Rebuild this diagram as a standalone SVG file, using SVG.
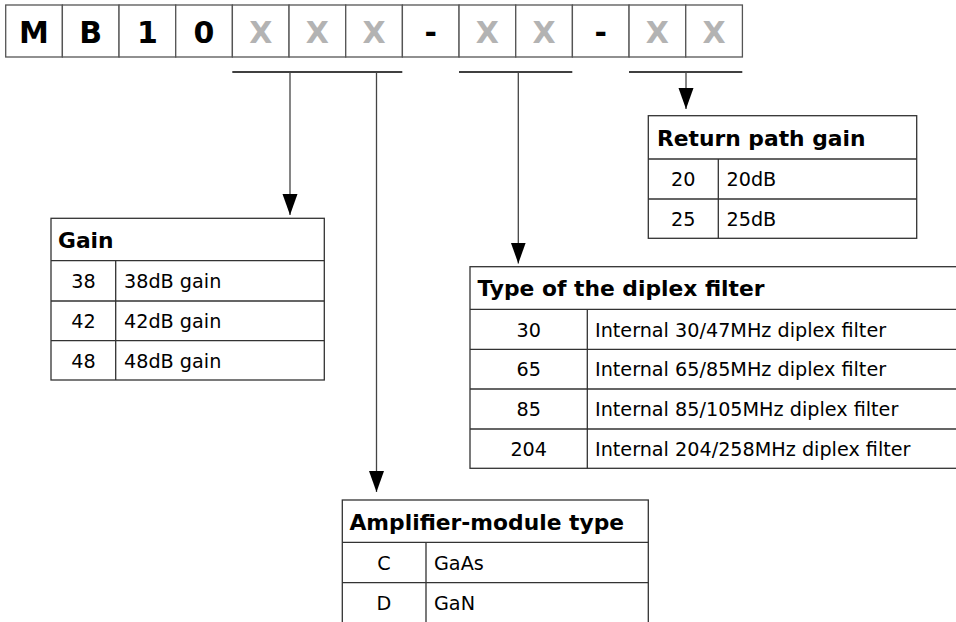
<svg xmlns="http://www.w3.org/2000/svg" width="956" height="622" viewBox="0 0 956 622">
<style>
.box{fill:#fff;stroke:#555;stroke-width:1.3}
.bl{font-family:"DejaVu Sans",sans-serif;font-weight:bold;font-size:30px;text-anchor:middle;fill:#000}
.gx{fill:#b3b3b3}
.tb{fill:#fff;stroke:#333;stroke-width:1.3}
.tl{stroke:#333;stroke-width:1.3;fill:none}
.hd{font-family:"DejaVu Sans",sans-serif;font-weight:bold;font-size:21.8px;fill:#000}
.bd{font-family:"DejaVu Sans",sans-serif;font-size:19.2px;fill:#000}
.c{text-anchor:middle}
.cn{stroke:#000;stroke-width:1.3;fill:none}
.cv{stroke:#444;stroke-width:1.3;fill:none}
</style>
<defs>
<marker id="ah" markerUnits="userSpaceOnUse" markerWidth="22" markerHeight="16" refX="21" refY="7.5" orient="auto">
<path d="M0,0 L21,7.5 L0,15 z" fill="#000"/>
</marker>
</defs>
<g id="code">
<rect class="box" x="5.7" y="5" width="56.67" height="52"/>
<rect class="box" x="62.37" y="5" width="56.67" height="52"/>
<rect class="box" x="119.04" y="5" width="56.67" height="52"/>
<rect class="box" x="175.71" y="5" width="56.67" height="52"/>
<rect class="box" x="232.38" y="5" width="56.67" height="52"/>
<rect class="box" x="289.05" y="5" width="56.67" height="52"/>
<rect class="box" x="345.72" y="5" width="56.67" height="52"/>
<rect class="box" x="402.39" y="5" width="56.67" height="52"/>
<rect class="box" x="459.06" y="5" width="56.67" height="52"/>
<rect class="box" x="515.73" y="5" width="56.67" height="52"/>
<rect class="box" x="572.4" y="5" width="56.67" height="52"/>
<rect class="box" x="629.07" y="5" width="56.67" height="52"/>
<rect class="box" x="685.74" y="5" width="56.67" height="52"/>
<text class="bl" x="34" y="42.5">M</text>
<text class="bl" x="90.7" y="42.5">B</text>
<text class="bl" x="147.4" y="42.5">1</text>
<text class="bl" x="204" y="42.5">0</text>
<text class="bl gx" x="260.7" y="42.5">X</text>
<text class="bl gx" x="317.4" y="42.5">X</text>
<text class="bl gx" x="374" y="42.5">X</text>
<text class="bl" x="430.7" y="42.5">-</text>
<text class="bl gx" x="487.4" y="42.5">X</text>
<text class="bl gx" x="544" y="42.5">X</text>
<text class="bl" x="600.7" y="42.5">-</text>
<text class="bl gx" x="657.4" y="42.5">X</text>
<text class="bl gx" x="714" y="42.5">X</text>
</g>
<g id="connectors">
<line class="cn" x1="232.3" y1="72" x2="402.3" y2="72"/>
<line class="cn" x1="459" y1="72" x2="572.3" y2="72"/>
<line class="cn" x1="629" y1="72" x2="742.3" y2="72"/>
<line class="cv" x1="290" y1="72" x2="290" y2="215" marker-end="url(#ah)"/>
<line class="cv" x1="376.5" y1="72" x2="376.5" y2="492" marker-end="url(#ah)"/>
<line class="cv" x1="518.3" y1="72" x2="518.3" y2="263.5" marker-end="url(#ah)"/>
<line class="cv" x1="686" y1="72" x2="686" y2="109" marker-end="url(#ah)"/>
</g>
<g id="gain">
<rect class="tb" x="51" y="218.3" width="273.3" height="161.7"/>
<path class="tl" d="M51,260.7H324.3M51,301H324.3M51,340.7H324.3M115.7,260.7V380"/>
<text class="hd" x="58" y="248">Gain</text>
<text class="bd c" x="83.4" y="288">38</text>
<text class="bd" x="124" y="288">38dB gain</text>
<text class="bd c" x="83.4" y="328">42</text>
<text class="bd" x="124" y="328">42dB gain</text>
<text class="bd c" x="83.4" y="367.6">48</text>
<text class="bd" x="124" y="367.6">48dB gain</text>
</g>
<g id="return-path-gain">
<rect class="tb" x="648.3" y="115.7" width="268.4" height="122.6"/>
<path class="tl" d="M648.3,159H916.7M648.3,199H916.7M718.3,159V238.3"/>
<text class="hd" x="657" y="146">Return path gain</text>
<text class="bd c" x="683.3" y="186.3">20</text>
<text class="bd" x="726.5" y="186.3">20dB</text>
<text class="bd c" x="683.3" y="226">25</text>
<text class="bd" x="726.5" y="226">25dB</text>
</g>
<g id="diplex-filter">
<rect class="tb" x="470" y="266.7" width="510" height="201.6"/>
<path class="tl" d="M470,309.3H980M470,349.3H980M470,389H980M470,429H980M587.3,309.3V468.3"/>
<text class="hd" x="477.5" y="296">Type of the diplex filter</text>
<text class="bd c" x="528.7" y="336.5">30</text>
<text class="bd" x="595" y="336.5">Internal 30/47MHz diplex filter</text>
<text class="bd c" x="528.7" y="376.3">65</text>
<text class="bd" x="595" y="376.3">Internal 65/85MHz diplex filter</text>
<text class="bd c" x="528.7" y="416">85</text>
<text class="bd" x="595" y="416">Internal 85/105MHz diplex filter</text>
<text class="bd c" x="528.7" y="455.8">204</text>
<text class="bd" x="595" y="455.8">Internal 204/258MHz diplex filter</text>
</g>
<g id="amplifier-module-type">
<rect class="tb" x="342.3" y="500" width="306" height="150"/>
<path class="tl" d="M342.3,542.3H648.3M342.3,582.7H648.3M426,542.3V650"/>
<text class="hd" x="349.5" y="529.5">Amplifier-module type</text>
<text class="bd c" x="384" y="569.6">C</text>
<text class="bd" x="434" y="569.6">GaAs</text>
<text class="bd c" x="384" y="610">D</text>
<text class="bd" x="434" y="610">GaN</text>
</g>
</svg>
